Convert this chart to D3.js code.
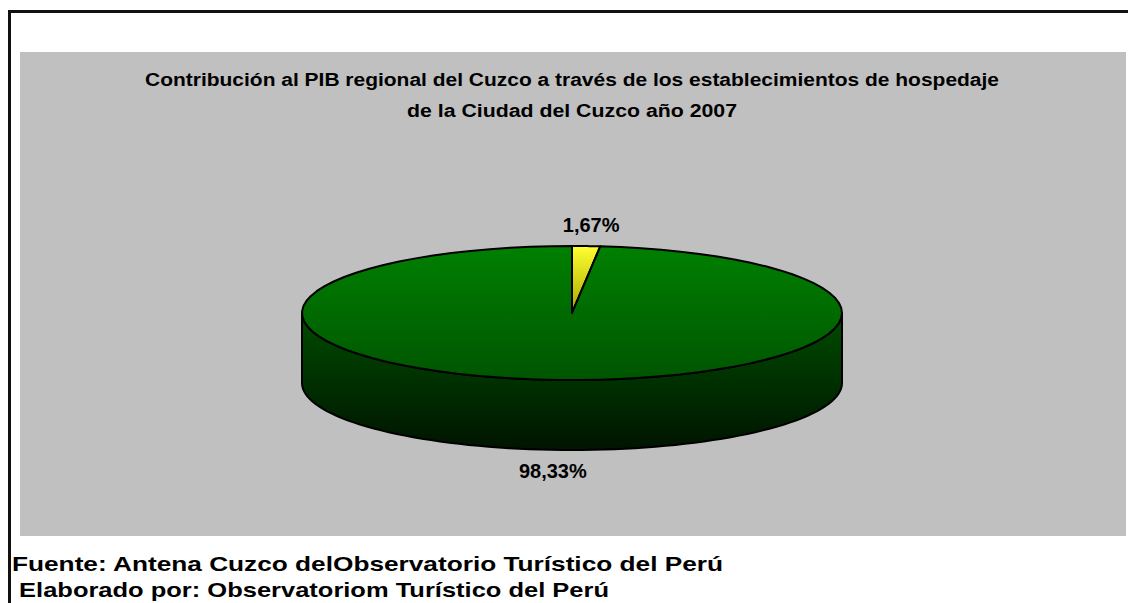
<!DOCTYPE html>
<html>
<head>
<meta charset="utf-8">
<script src="https://cdn.jsdelivr.net/npm/d3@7"></script>
<style>
  html, body { margin: 0; padding: 0; background: #fff; }
  svg { display: block; }
  text { font-family: "Liberation Sans", Arial, sans-serif; font-weight: bold; fill: #000; }
</style>
</head>
<body>
<svg id="chart"></svg>
<script>
// data
const categories = ['Establecimientos de hospedaje', 'Resto del PIB regional'];
const values = [1.67, 98.33];
const valueLabels = ['1,67%', '98,33%'];
const titleLines = [
  'Contribución al PIB regional del Cuzco a través de los establecimientos de hospedaje',
  'de la Ciudad del Cuzco año 2007'
];
const footerLines = [
  'Fuente: Antena Cuzco delObservatorio Turístico del Perú',
  ' Elaborado por: Observatoriom Turístico del Perú'
];

const width = 1128;
const height = 603;

const svg = d3.select('#chart')
  .attr('width', width)
  .attr('height', height);

const defs = svg.append('defs');

function vGrad(id, y1, y2, stops) {
  const g = defs.append('linearGradient')
    .attr('id', id)
    .attr('gradientUnits', 'userSpaceOnUse')
    .attr('x1', 0).attr('x2', 0)
    .attr('y1', y1).attr('y2', y2);
  stops.forEach(s => g.append('stop').attr('offset', s[0]).attr('stop-color', s[1]));
}

// outer frame (only top and left show)
svg.append('path')
  .attr('d', `M9.5,${height + 5}V11.5H${width + 5}`)
  .attr('fill', 'none')
  .attr('stroke', '#111')
  .attr('stroke-width', 3);

// plot area
svg.append('rect')
  .attr('x', 20)
  .attr('y', 52)
  .attr('width', 1106)
  .attr('height', 484)
  .attr('fill', '#c0c0c0');

// title (the source text is rendered wider than the local font, so stretch it)
const titleWidths = [854, 330];
svg.append('g')
  .selectAll('text')
  .data(titleLines)
  .join('text')
  .attr('x', 572)
  .attr('y', (d, i) => 86 + i * 31)
  .attr('text-anchor', 'middle')
  .attr('font-size', 18)
  .attr('textLength', (d, i) => titleWidths[i])
  .attr('lengthAdjust', 'spacingAndGlyphs')
  .text(d => d);

// pie geometry
const cx = 572, cy = 313, rx = 270, ry = 67, depth = 70;

vGrad('gTop', cy - ry, cy + ry, [[0, '#008000'], [1, '#005500']]);
vGrad('gSide', cy, cy + ry + depth, [[0, '#004c00'], [1, '#001400']]);
vGrad('gYel', cy - ry, cy, [[0, '#ffff30'], [1, '#a8a800']]);

const pie = d3.pie().sort(null).value(d => d);
const arcs = pie(values);

// point on the ellipse for an angle measured clockwise from 12 o'clock
const px = (a, r = rx) => cx + r * Math.sin(a);
const py = (a, r = ry, dy = 0) => cy - r * Math.cos(a) + dy;

function ellArc(a0, a1, dy, n = 80) {
  return d3.range(n + 1).map(i => {
    const a = a0 + (a1 - a0) * i / n;
    return [px(a), py(a, ry, dy)];
  });
}

const line = d3.line();

// side wall: visible part of each slice lies between 90 and 270 degrees
arcs.forEach((d, i) => {
  const a0 = Math.max(d.startAngle, Math.PI / 2);
  const a1 = Math.min(d.endAngle, 3 * Math.PI / 2);
  if (a1 <= a0) return;
  const topPts = ellArc(a0, a1, 0);
  const botPts = ellArc(a1, a0, depth);
  svg.append('path')
    .attr('d', line(topPts.concat(botPts)) + 'Z')
    .attr('fill', i === 0 ? '#808000' : 'url(#gSide)')
    .attr('stroke', '#000')
    .attr('stroke-width', 2)
    .attr('stroke-linejoin', 'round');
});

// top faces
arcs.forEach((d, i) => {
  const pts = [[cx, cy]].concat(ellArc(d.startAngle, d.endAngle, 0));
  svg.append('path')
    .attr('d', line(pts) + 'Z')
    .attr('fill', i === 0 ? 'url(#gYel)' : 'url(#gTop)')
    .attr('stroke', '#000')
    .attr('stroke-width', 2)
    .attr('stroke-linejoin', 'round');
});

// value labels
const lrx = 365, lry = 88;
svg.append('g')
  .selectAll('text')
  .data(arcs)
  .join('text')
  .attr('x', d => px((d.startAngle + d.endAngle) / 2, lrx))
  .attr('y', d => {
    const m = (d.startAngle + d.endAngle) / 2;
    const extra = Math.cos(m) < 0 ? depth : 0;
    return py(m, lry, extra) + 7;
  })
  .attr('text-anchor', 'middle')
  .attr('font-size', 20)
  .text((d, i) => valueLabels[i]);

// footer
const footerWidths = [711, 597];
svg.append('g')
  .selectAll('text')
  .data(footerLines)
  .join('text')
  .attr('x', 12)
  .attr('y', (d, i) => 571 + i * 26)
  .attr('font-size', 21)
  .attr('xml:space', 'preserve')
  .style('white-space', 'pre')
  .attr('textLength', (d, i) => footerWidths[i])
  .attr('lengthAdjust', 'spacingAndGlyphs')
  .text(d => d);
</script>
</body>
</html>
